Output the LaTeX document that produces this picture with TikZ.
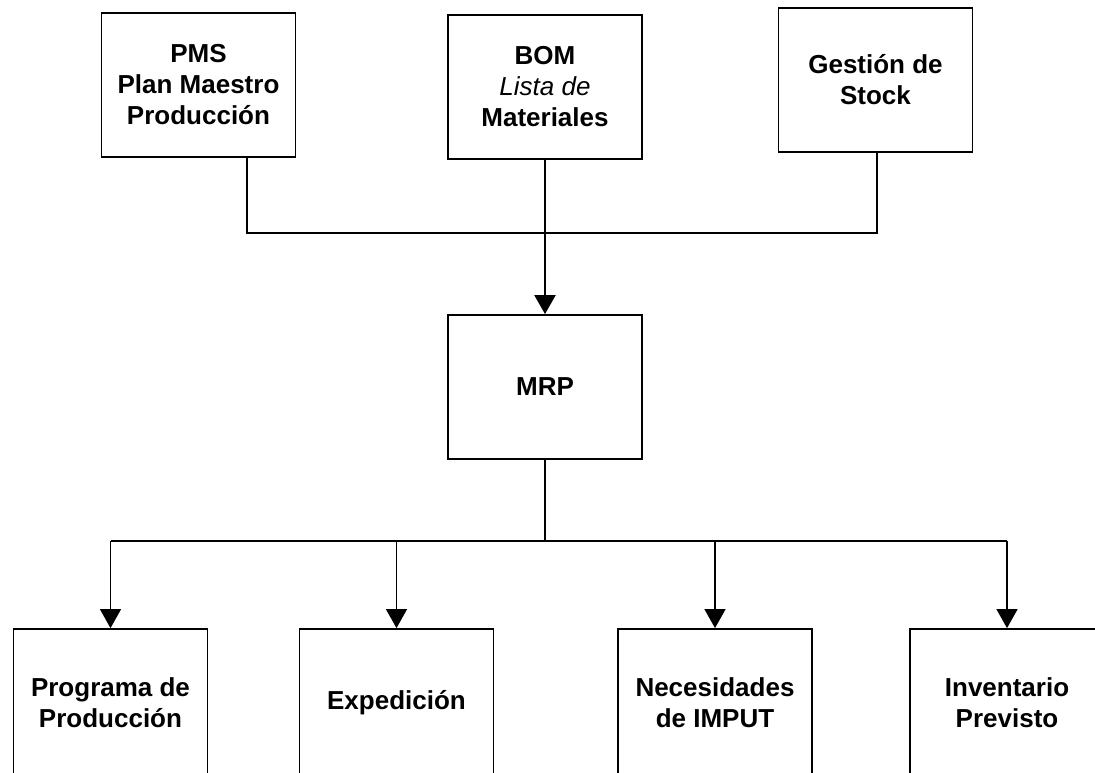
\documentclass[tikz,border=0pt]{standalone}
\usepackage{fontspec}
\setmainfont{Liberation Sans}
\usetikzlibrary{arrows.meta}
\begin{document}
\begin{tikzpicture}[x=1pt,y=-1pt,
  box/.style={draw, line width=1.8pt, minimum width=194pt, minimum height=144pt,
    inner sep=0pt, align=center, font=\fontsize{26}{31}\selectfont\bfseries},
  lowbox/.style={box, minimum height=148pt},
  link/.style={line width=1.3pt},
  arr/.style={line width=1.3pt, -{Triangle[width=21pt,length=19pt]}},
  mainarr/.style={arr, line width=2pt}]
\useasboundingbox (0,0) rectangle (1095,772);
% top row
\node[box] (pms) at (198.5,85) {PMS\\Plan Maestro\\Producción};
\node[box] (bom) at (545,87) {BOM\\{\mdseries\itshape Lista de}\\Materiales};
\node[box] (gest) at (875.5,80) {Gestión de\\Stock};
% middle
\node[box] (mrp) at (545,387) {MRP};
% bottom row
\node[lowbox] (prog) at (110.5,703) {Programa de\\Producción};
\node[lowbox] (exped) at (396.5,703) {Expedición};
\node[lowbox] (neces) at (715,703) {Necesidades\\de IMPUT};
\node[lowbox] (inv) at (1007,703) {Inventario\\Previsto};
% junctions
\coordinate (jl) at (247,233);
\coordinate (jr) at (877,233);
\coordinate (bl) at (111,541);
% top connectors
\draw[link] (pms.south -| jl) -- (jl) -- (jr) -- (gest.south -| jr);
\draw[link] (bom.south) -- (bom.south |- jl);
\draw[mainarr] (bom.south |- jl) -- (mrp.north);
% bottom connectors
\draw[link] (mrp.south) -- (mrp.south |- bl);
\draw[link] (prog.north |- bl) -- (inv.north |- bl);
\draw[arr] (prog.north |- bl) -- (prog.north);
\draw[arr] (exped.north |- bl) -- (exped.north);
\draw[arr] (neces.north |- bl) -- (neces.north);
\draw[arr] (inv.north |- bl) -- (inv.north);
\end{tikzpicture}
\end{document}
